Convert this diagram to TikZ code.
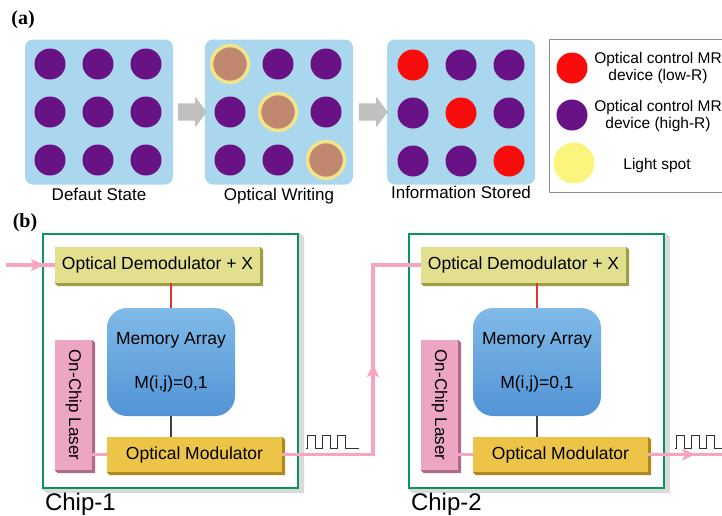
\documentclass[tikz,border=0pt]{standalone}
\usepackage{fontspec}
\setmainfont{Liberation Sans}
\newfontfamily\panelfont{Liberation Serif}
\usetikzlibrary{shapes.arrows,arrows.meta}

\definecolor{panelblue}{RGB}{170,215,237}
\definecolor{mrpurple}{RGB}{104,18,134}
\definecolor{mrred}{RGB}{250,12,12}
\definecolor{spotbrown}{RGB}{192,136,112}
\definecolor{spotring}{RGB}{240,228,140}
\definecolor{spotyellow}{RGB}{252,245,125}
\definecolor{arrowgray}{RGB}{192,192,192}
\definecolor{chipgreen}{RGB}{10,150,85}
\definecolor{demodfill}{RGB}{226,224,142}
\definecolor{demodedge}{RGB}{160,156,70}
\definecolor{modfill}{RGB}{236,196,72}
\definecolor{modedge}{RGB}{176,136,30}
\definecolor{laserfill}{RGB}{236,166,196}
\definecolor{laseredge}{RGB}{178,106,138}
\definecolor{memtop}{RGB}{128,186,232}
\definecolor{membottom}{RGB}{82,148,214}
\definecolor{fiberpink}{RGB}{246,164,194}
\definecolor{linkred}{RGB}{226,50,50}

% darker lower-right rim of a raised box
\newcommand\rimbox[3]{%
    \fill[#2] (#1.north east) -- ([shift={(#3,-#3)}]#1.north east) -- ([shift={(#3,-#3)}]#1.south east)
        -- ([shift={(#3,-#3)}]#1.south west) -- (#1.south west) -- (#1.south east) -- cycle;}

\tikzset{%
    panel/.style={rectangle,rounded corners=8pt,fill=panelblue,minimum width=148pt,minimum height=145pt,inner sep=0pt},
    mrhigh/.style={circle,fill=mrpurple,minimum size=31pt,inner sep=0pt},
    mrlow/.style={circle,fill=mrred,minimum size=31pt,inner sep=0pt},
    mrspot/.style={circle,fill=spotbrown,draw=spotring,line width=3.5pt,minimum size=37pt,inner sep=0pt},
    flowarrow/.style={single arrow,fill=arrowgray,inner sep=8.5pt,minimum height=29pt,single arrow head extend=6.5pt,single arrow tip angle=105},
    caption/.style={font=\fontsize{17}{20}\selectfont},
    legendbox/.style={rectangle,draw=black!45,line width=0.8pt,minimum width=230pt,minimum height=153pt,inner sep=0pt},
    legendtext/.style={align=center,font=\fontsize{15.5}{17}\selectfont},
    chipbox/.style={rectangle,draw=chipgreen,line width=2.4pt,fill=white,minimum width=255pt,minimum height=254pt},
    demodbox/.style={rectangle,fill=demodfill,minimum width=205pt,minimum height=36pt,inner sep=0pt,
        font=\fontsize{17.5}{20}\selectfont},
    modbox/.style={rectangle,fill=modfill,minimum width=175pt,minimum height=35pt,inner sep=0pt,
        font=\fontsize{17.5}{20}\selectfont},
    laserbox/.style={rectangle,fill=laserfill,minimum width=37pt,minimum height=130pt,inner sep=0pt,
        font=\fontsize{17}{20}\selectfont},
    memarray/.style={rectangle,rounded corners=20pt,top color=memtop,bottom color=membottom,minimum width=128pt,
        minimum height=108pt,align=center,font=\fontsize{17.5}{20}\selectfont},
    fiber/.style={draw=fiberpink,line width=3.2pt},
    fibertip/.style={fiber,-{Stealth[length=13pt,width=12pt,inset=3pt]}},
    wave/.style={draw=black!80,line width=0.9pt},
    chiplabel/.style={anchor=base west,inner sep=0pt,font=\fontsize{24}{28}\selectfont},
}

\begin{document}
\begin{tikzpicture}[x=1pt,y=-1pt]
    \clip (0,0) rectangle (722,515);
    \fill[white] (0,0) rectangle (722,515);

    % (a) optical writing
    \node[font=\panelfont\bfseries\fontsize{20}{22}\selectfont] (labela) at (23,20) {(a)};

    \node[panel] (p1) at (99,112) {};
    \node[panel] (p2) at (279,112) {};
    \node[panel] (p3) at (461,112) {};

    \foreach \r in {1,2,3} {
        \foreach \c in {1,2,3} {
            \node[mrhigh] (d1-\r-\c) at (98+48*\c-96,64+48*\r-48) {};
            \ifnum\r=\c
                \node[mrspot] (d2-\r-\c) at (278+48*\c-96,64+48*\r-48) {};
                \node[mrlow] (d3-\r-\c) at (461+48*\c-96,65+48*\r-48) {};
            \else
                \node[mrhigh] (d2-\r-\c) at (278+48*\c-96,64+48*\r-48) {};
                \node[mrhigh] (d3-\r-\c) at (461+48*\c-96,65+48*\r-48) {};
            \fi
        }
    }

    \node[flowarrow] (arr1) at (189,112) {};
    \node[flowarrow] (arr2) at (370,112) {};

    \node[caption,anchor=north] (cap1) at (p1.south) {Defaut State};
    \node[caption,anchor=north] (cap2) at (p2.south) {Optical Writing};
    \node[caption,anchor=north] (cap3) at ([yshift=2pt]p3.south) {Information Stored};

    % legend
    \node[legendbox,anchor=north west] (legend) at (549,39) {};
    \node[mrlow] (keylow) at (572,68) {};
    \node[mrhigh] (keyhigh) at (572,115) {};
    \node[circle,fill=spotyellow,minimum size=41pt,inner sep=0pt] (keyspot) at (574,163) {};
    \node[legendtext] (txtlow) at (658,68) {Optical control MR\\device (low-R)};
    \node[legendtext] (txthigh) at (658,116) {Optical control MR\\device (high-R)};
    \node[legendtext] (txtspot) at (657,165) {Light spot};

    % (b) chip to chip link
    \node[font=\panelfont\bfseries\fontsize{20}{22}\selectfont] (labelb) at (25,223) {(b)};

    \foreach \i/\dx in {1/0,2/366} {
        \node[chipbox] (chip\i) at (170.5+\dx,361) {};
        \fill[black,opacity=.14] (chip\i.north east) -- ++(5,4) -- ([shift={(5pt,-4pt)}]chip\i.south east)
            -- ([shift={(5pt,-4pt)}]chip\i.south west) -- (chip\i.south west) -- (chip\i.south east) -- cycle;
        \node[demodbox] (demod\i) at (157.5+\dx,265) {Optical Demodulator + X};
        \rimbox{demod\i}{demodedge}{3pt}
        \node[memarray] (mem\i) at (171+\dx,362) {Memory Array\\[24pt]M(i,j)=0,1};
        \node[modbox] (mod\i) at (194.5+\dx,454.5) {Optical Modulator};
        \rimbox{mod\i}{modedge}{3pt}
        \node[laserbox] (laser\i) at (73.5+\dx,405) {\rotatebox{-90}{On-Chip Laser}};
        \rimbox{laser\i}{laseredge}{3pt}
        \node[chiplabel] (name\i) at ([shift={(3pt,-21pt)}]chip\i.south west) {Chip-\i};

        \draw[linkred,line width=1.3pt] (mem\i.north) -- (mem\i.north |- demod\i.south);
        \draw[black!75,line width=1.3pt] (mem\i.south) -- (mem\i.south |- mod\i.north);
        \draw[fiber] (mod\i.west) -- (mod\i.west -| laser\i.east);
    }

    % optical links
    \coordinate (fiberin) at (6,265);
    \coordinate (tipin) at (44,265);
    \coordinate (riser) at (373,0);
    \coordinate (tipup) at (373,364);
    \coordinate (fiberout) at (740,0);
    \coordinate (tipout) at (695,0);
    \draw[fiber] (fiberin) -- (demod1.west);
    \draw[fibertip] (fiberin) -- (tipin);
    \draw[fiber] (mod1.east) -- (mod1.east -| riser) -- (riser |- demod2.west) -- (demod2.west);
    \draw[fibertip] (mod1.east -| riser) -- (tipup);
    \draw[fiber] (mod2.east) -- (mod2.east -| fiberout);
    \draw[fibertip] (mod2.east) -- (mod2.east -| tipout);

    % pulse trains
    \coordinate (pulse1) at (306,448);
    \coordinate (pulse2) at (675,448);
    \foreach \p in {pulse1,pulse2} {
        \draw[wave] (\p) -- ++(1,0) -- ++(0,-13) -- ++(8,0) -- ++(0,13) -- ++(7,0) -- ++(0,-13) -- ++(8,0)
            -- ++(0,13) -- ++(7,0) -- ++(0,-13) -- ++(8,0) -- ++(0,13) -- ++(14,0);
    }
\end{tikzpicture}
\end{document}
